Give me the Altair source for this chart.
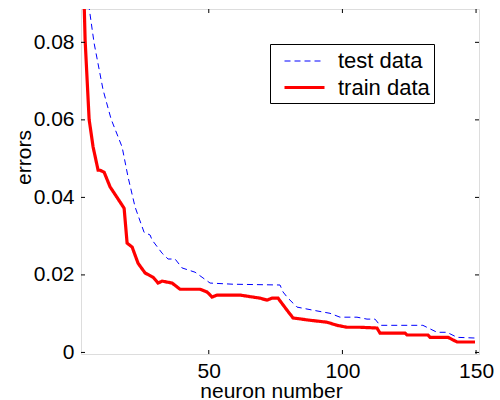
import altair as alt
import pandas as pd

# ---- data ----
train_x = [3.0, 3.74, 5.24, 6.73, 8.60, 9.35, 10.85, 13.09, 17.58, 18.33, 19.45, 21.32, 23.56,
           26.18, 29.17, 31.04, 32.54, 36.28, 39.27, 46.75, 49.36, 51.23, 53.10, 61.71, 69.18,
           71.80, 73.67, 75.92, 79.28, 81.53, 87.88, 94.24, 97.98, 101.72, 106.58, 112.94,
           114.06, 123.41, 124.16, 132.0, 132.8, 139.5, 142.9, 149.6]
train_y = [0.100, 0.0806, 0.0601, 0.0530, 0.0470, 0.0470, 0.0465, 0.0427, 0.0380, 0.0372,
           0.0282, 0.0272, 0.0230, 0.0205, 0.0194, 0.0179, 0.0184, 0.0179, 0.0163, 0.0163,
           0.0156, 0.0143, 0.0148, 0.0148, 0.0140, 0.0135, 0.0140, 0.0140, 0.0109, 0.0089,
           0.0083, 0.0078, 0.0070, 0.0065, 0.0065, 0.0063, 0.0050, 0.0050, 0.0045, 0.0045,
           0.0039, 0.0039, 0.0027, 0.0027]

test_x = [4.0, 7.10, 10.47, 13.46, 17.58, 19.82, 22.44, 25.80, 28.05, 28.80, 32.54, 34.78,
          37.40, 40.02, 44.88, 47.49, 50.49, 59.09, 76.66, 77.78, 79.65, 83.02, 89.0, 95.36,
          99.10, 105.46, 109.2, 112.2, 114.06, 130.1, 135.4, 139.1, 142.9, 150.3]
test_y = [0.0950, 0.0798, 0.0677, 0.0602, 0.0530, 0.0452, 0.0375, 0.0310, 0.0303, 0.0290,
          0.0256, 0.0241, 0.0241, 0.0218, 0.0207, 0.0194, 0.0179, 0.0176, 0.0174, 0.0156,
          0.0140, 0.0117, 0.0109, 0.0101, 0.0091, 0.0091, 0.0086, 0.0086, 0.0070, 0.0070,
          0.0052, 0.0052, 0.0039, 0.0037]

series_names = ["test data", "train data"]
x_ticks = [50, 100, 150]
y_ticks = [0, 0.02, 0.04, 0.06, 0.08]

df = pd.concat([
    pd.DataFrame({"x": test_x, "y": test_y, "series": series_names[0]}),
    pd.DataFrame({"x": train_x, "y": train_y, "series": series_names[1]}),
])

W, H = 398, 345
FONT = "Liberation Sans"
FS = 21

xscale = alt.Scale(domain=[2.2, 151.1], nice=False, zero=False)
yscale = alt.Scale(domain=[-0.0004, 0.0886], nice=False, zero=False)

legend = alt.Legend(
    title=None, orient="none", legendX=189, legendY=35,
    strokeColor="black", fillColor="white", padding=4,
    labelFontSize=22, labelFont=FONT, labelOffset=19, labelColor="black",
    labelExpr="datum.label + '\u00a0\u00a0'",
    symbolType="M-1.6,0H1.6", symbolSize=625, rowPadding=1, symbolOffset=16,
    symbolOpacity=1, labelLimit=300,
)

lines = alt.Chart(df).mark_line(clip=True).encode(
    x=alt.X("x:Q", scale=xscale, axis=alt.Axis(
        values=x_ticks, grid=False, domain=False, tickSize=0,
        labelFontSize=FS, labelFont=FONT, labelColor="black", labelPadding=6,
        title="neuron number", titleFontSize=FS, titleFont=FONT,
        titleFontWeight="normal", titleColor="black",
        titleX=190, titleY=43, titleBaseline="alphabetic")),
    y=alt.Y("y:Q", scale=yscale, axis=alt.Axis(
        values=y_ticks, grid=False, domain=False, tickSize=0,
        labelExpr="datum.value == 0 ? '0' : format(datum.value, '.2f')",
        labelFontSize=FS, labelFont=FONT, labelColor="black", labelPadding=7,
        title="errors", titleFontSize=FS, titleFont=FONT,
        titleFontWeight="normal", titleColor="black",
        titleX=-51, titleY=148, titleAlign="center", titleBaseline="alphabetic")),
    color=alt.Color("series:N", scale=alt.Scale(domain=series_names, range=["#0000ff", "#ff0000"]),
                    legend=legend),
    strokeDash=alt.StrokeDash("series:N", scale=alt.Scale(domain=series_names, range=[[6, 4], [1, 0]]),
                              legend=legend),
    strokeWidth=alt.StrokeWidth("series:N", scale=alt.Scale(domain=series_names, range=[1, 3.2]),
                                legend=legend),
)

xt = pd.DataFrame({"x": x_ticks})
yt = pd.DataFrame({"y": y_ticks})
TL = 4
tick_style = dict(color="black", strokeWidth=1)
xb = alt.Chart(xt).mark_rule(**tick_style).encode(
    x=alt.X("x:Q", scale=xscale), y=alt.value(H), y2=alt.value(H - TL))
xtp = alt.Chart(xt).mark_rule(**tick_style).encode(
    x=alt.X("x:Q", scale=xscale), y=alt.value(0), y2=alt.value(TL))
yl = alt.Chart(yt).mark_rule(**tick_style).encode(
    y=alt.Y("y:Q", scale=yscale), x=alt.value(0), x2=alt.value(TL))
yr = alt.Chart(yt).mark_rule(**tick_style).encode(
    y=alt.Y("y:Q", scale=yscale), x=alt.value(W), x2=alt.value(W - TL))

chart = alt.layer(lines, xb, xtp, yl, yr).properties(
    width=W, height=H,
    autosize=alt.AutoSizeParams(type="none"),
    padding={"left": 81, "top": 9, "right": 21, "bottom": 46},
    background="white",
).configure_view(
    stroke="black", strokeWidth=1.6
).configure(font=FONT)

chart.save("out.html", embed_options={"renderer": "svg", "actions": False})
